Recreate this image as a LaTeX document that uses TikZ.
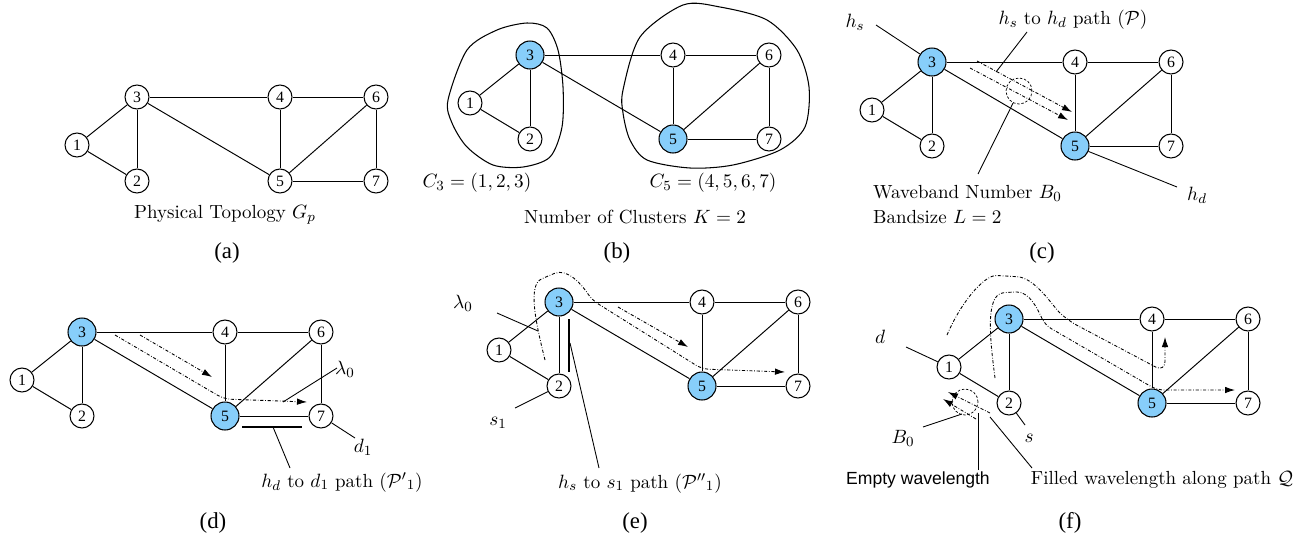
\documentclass[tikz,border=0pt]{standalone}
\usepackage{fontspec}
\newfontfamily\timesfont{Liberation Serif}
\newfontfamily\arialfont{Liberation Sans}
\usetikzlibrary{arrows.meta}
\definecolor{hubblue}{RGB}{135,206,250}

% one copy of the 7-node network: prefix, x and y of node 3, style of nodes 3 and 5
\newcommand{\drawnet}[4]{%
  \foreach \n/\dx/\dy/\s in {1/-60/48/vtx,2/0/84/vtx,3/0/0/#4,4/143/0/vtx,5/143/84/#4,6/239/0/vtx,7/239/84/vtx}
    {\node[\s] (#1\n) at (#2+\dx,#3+\dy) {\n};}
  \foreach \u/\v in {1/2,1/3,2/3,3/4,3/5,4/5,4/6,5/6,5/7,6/7}
    {\draw[link] (#1\u) -- (#1\v);}
}

\begin{document}
\begin{tikzpicture}[
  x=0.02cm, y=-0.02cm,
  font=\fontsize{10.8}{13}\selectfont,
  vtx/.style={circle, draw, line width=0.6pt, fill=white, minimum size=0.48cm, inner sep=0pt,
              font=\timesfont\fontsize{9}{10}\selectfont},
  hub/.style={vtx, fill=hubblue, minimum size=0.56cm},
  link/.style={line width=0.55pt},
  lead/.style={line width=0.5pt},
  twin/.style={line width=0.6pt},
  cluster/.style={line width=0.6pt},
  wave/.style={line width=0.5pt, dash pattern=on 1.8pt off 1pt on 0.4pt off 1pt,
               -{Latex[length=2mm,width=1.3mm]}},
  band/.style={circle, draw, line width=0.4pt, dash pattern=on 1.4pt off 1pt,
               minimum size=0.52cm, inner sep=0pt},
  panelcap/.style={font=\timesfont\fontsize{13}{15}\selectfont}
]
\useasboundingbox (0,0) rectangle (1307,538);

% (a)
\drawnet{a}{137}{97}{vtx}
\node (atitle) at (225,215) {Physical Topology $G_p$};
\node[panelcap] (acap) at (227,253) {(a)};

% (b)
\drawnet{b}{530}{55}{hub}
\draw[cluster] plot[smooth cycle] coordinates {(448,100) (467,50) (497,30) (527,23) (547,28) (558,50)
  (563,87) (562,127) (550,157) (523,167) (493,165) (467,147) (452,123)};
\draw[cluster] plot[smooth cycle] coordinates {(623,90) (640,37) (683,5) (720,7) (767,20) (797,50)
  (809,87) (805,127) (780,150) (733,165) (690,168) (647,160) (630,140) (623,113)};
\node (bc3) at (477,183) {$C_3=(1,2,3)$};
\node (bc5) at (713,183) {$C_5=(4,5,6,7)$};
\node (btitle) at (635,217) {Number of Clusters $K=2$};
\node[panelcap] (bcap) at (617,253) {(b)};

% (c)
\drawnet{c}{932}{62}{hub}
\draw[wave] (977,61) -- (1072,112);
\draw[wave] (970,68) -- (1068,120);
\node[band] (cband) at (1019,91) {};
\node (chs) at (855,22) {$h_s$};
\node (cpath) at (1073,20) {$h_s$ to $h_d$ path $(\mathcal{P})$};
\node[anchor=west] (cwb) at (867,193) {Waveband Number $B_0$};
\node[anchor=west] (cbs) at (867,217) {Bandsize $L=2$};
\node (chd) at (1197,195) {$h_d$};
\coordinate (chsfoot) at (876,25);
\coordinate (cpathfoot) at (1027,32);
\coordinate (cpathtip) at (996,72);
\coordinate (cwbfoot) at (978,174);
\coordinate (chdfoot) at (1177,187);
\draw[lead] (chsfoot) -- (c3);
\draw[lead] (cpathfoot) -- (cpathtip);
\draw[lead] (cband) -- (cwbfoot);
\draw[lead] (c5) -- (chdfoot);
\node[panelcap] (ccap) at (1042,253) {(c)};

% (d)
\drawnet{d}{82}{332}{hub}
\draw[wave] (140,335) -- (212,377);
\draw[wave, rounded corners=4pt] (115,335) -- (224,399) -- (307,402);
\coordinate (dtwina) at (242,427);
\coordinate (dtwinb) at (302,427);
\draw[twin] (dtwina) -- (dtwinb);
\node (dlam) at (345,369) {$\lambda_0$};
\node (dd1) at (363,447) {$d_1$};
\node (dpath) at (342,482) {$h_d$ to $d_1$ path $({\mathcal{P}'}_1)$};
\coordinate (dlamfoot) at (337,368);
\coordinate (dlamtip) at (283,402);
\coordinate (dd1foot) at (355,438);
\coordinate (dtwinmid) at (273,427);
\coordinate (dpathfoot) at (290,468);
\draw[lead] (dlamfoot) -- (dlamtip);
\draw[lead] (d7) -- (dd1foot);
\draw[lead] (dtwinmid) -- (dpathfoot);
\node[panelcap] (dcap) at (213,523) {(d)};

% (e)
\drawnet{e}{559}{302}{hub}
\draw[wave] (618,307) -- (688,347);
\draw[wave, rounded corners=4pt] (545,360) .. controls (535,320) and (528,285) .. (548,276)
  .. controls (568,268) and (582,285) .. (592,300) -- (702,369) -- (785,372);
\coordinate (etwina) at (569,319);
\coordinate (etwinb) at (569,372);
\draw[twin] (etwina) -- (etwinb);
\node (elam) at (463,303) {$\lambda_0$};
\node (es1) at (498,423) {$s_1$};
\node (epath) at (640,483) {$h_s$ to $s_1$ path $({\mathcal{P}''}_1)$};
\coordinate (elamfoot) at (497,313);
\coordinate (elamtip) at (538,331);
\coordinate (es1foot) at (515,408);
\coordinate (etwinmid) at (570,343);
\coordinate (epathfoot) at (599,468);
\draw[lead] (elamfoot) -- (elamtip);
\draw[lead] (es1foot) -- (e2);
\draw[lead] (etwinmid) -- (epathfoot);
\node[panelcap] (ecap) at (635,523) {(e)};

% (f)
\drawnet{f}{1009}{319}{hub}
\draw[wave, rounded corners=6pt] (947,335) .. controls (962,300) and (985,275) .. (1007,276)
  .. controls (1035,278) and (1052,305) .. (1067,320) -- (1165,372) -- (1165,337);
\draw[wave, rounded corners=4pt] (995,378) .. controls (990,340) and (985,295) .. (1010,292)
  .. controls (1030,292) and (1038,310) .. (1045,325) -- (1157,390) -- (1235,390);
\draw[wave] (990,413) -- (948,392);
\draw[wave] (976,419) -- (943,399);
\node[band] (fband) at (965,402) {};
\node (fd) at (880,337) {$d$};
\node (fs) at (1029,438) {$s$};
\node (fb0) at (903,438) {$B_0$};
\node (fempty) at (918,480) {\arialfont\fontsize{10}{12}\selectfont Empty wavelength};
\node (ffilled) at (1162,480) {Filled wavelength along path $\mathcal{Q}$};
\coordinate (fdfoot) at (906,347);
\coordinate (fsfoot) at (1025,425);
\coordinate (fb0foot) at (923,427);
\coordinate (fb0tip) at (962,414);
\coordinate (femptytip) at (978,413);
\coordinate (femptyfoot) at (978,470);
\coordinate (ffilledtip) at (990,417);
\coordinate (ffilledfoot) at (1032,468);
\draw[lead] (fdfoot) -- (f1);
\draw[lead] (fsfoot) -- (f2);
\draw[lead] (fb0foot) -- (fb0tip);
\draw[lead] (femptyfoot) -- (femptytip);
\draw[lead] (ffilledfoot) -- (ffilledtip);
\node[panelcap] (fcap) at (1070,523) {(f)};
\end{tikzpicture}
\end{document}
